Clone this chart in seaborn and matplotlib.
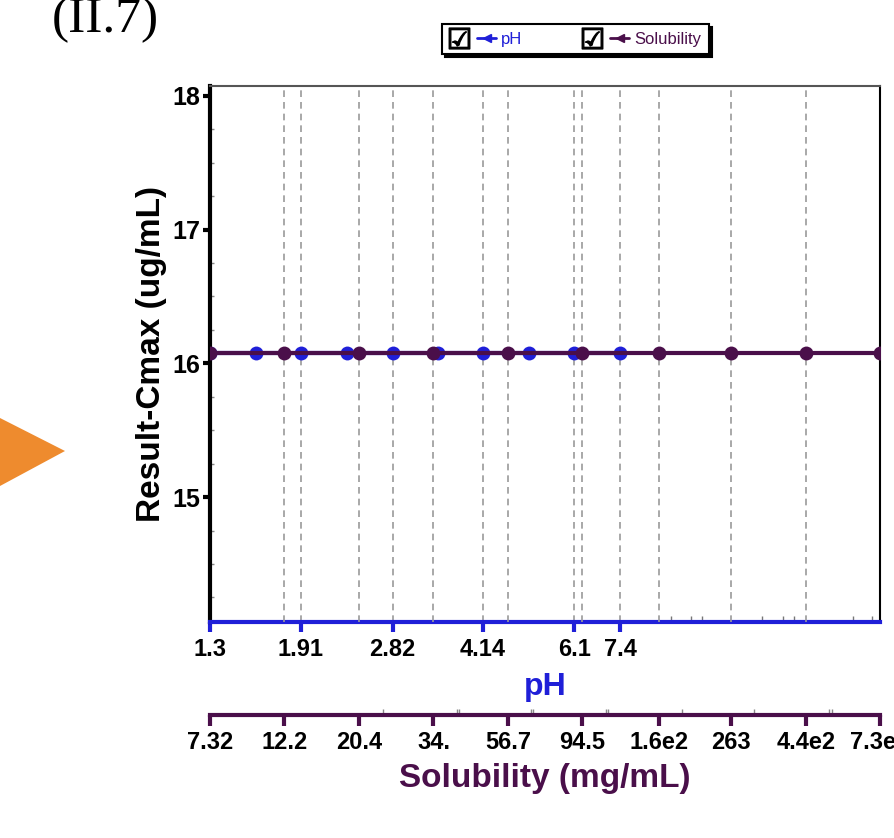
import seaborn as sns
import matplotlib.pyplot as plt
from matplotlib.lines import Line2D
from matplotlib.patches import Polygon
from matplotlib.legend_handler import HandlerTuple
from matplotlib.ticker import FixedLocator, NullFormatter

# data
ph = [1.3, 1.58, 1.91, 2.32, 2.82, 3.42, 4.14, 5.03, 6.1, 7.4]
cmax_ph = [16.08, 16.08, 16.08, 16.08, 16.08, 16.08, 16.08, 16.08, 16.08, 16.08]
solubility = [7.32, 12.2, 20.4, 34.0, 56.7, 94.5, 160, 263, 440, 730]
cmax_sol = [16.08, 16.08, 16.08, 16.08, 16.08, 16.08, 16.08, 16.08, 16.08, 16.08]

ph_ticks = [1.3, 1.91, 2.82, 4.14, 6.1, 7.4]
ph_tick_labels = ['1.3', '1.91', '2.82', '4.14', '6.1', '7.4']
ph_minor = [9.2, 10.0, 10.5, 13.5, 14.8, 15.5, 19.9, 21.6]
sol_ticks = [7.32, 12.2, 20.4, 34.0, 56.7, 94.5, 160, 263, 440, 730]
sol_tick_labels = ['7.32', '12.2', '20.4', '34.', '56.7', '94.5', '1.6e2', '263', '4.4e2', '7.3e2']
sol_minor = [24.0, 40.0, 40.6, 66.5, 67.6, 111, 113, 188, 309, 517, 525]
y_ticks = [15, 16, 17, 18]
y_minor = [14.25, 14.5, 14.75, 15.25, 15.5, 15.75, 16.25, 16.5, 16.75, 17.25, 17.5, 17.75]

blue = '#1f1fd8'
purple = '#4a0f4a'
grid_kw = dict(color='#9a9a9a', linestyle=(0, (4, 3)), linewidth=1.2)

sns.set_style('white')
plt.rcParams['font.family'] = ['Liberation Sans', 'DejaVu Sans']
plt.rcParams['font.weight'] = 'bold'

fig = plt.figure(figsize=(8.94, 8.38), dpi=100)
ax = fig.add_axes([0.2349, 0.2581, 0.7494, 0.6396])
ax2 = ax.twiny()

sns.lineplot(x=ph, y=cmax_ph, ax=ax, color=blue, marker='o', markersize=10,
             markeredgewidth=0, linewidth=3)
sns.lineplot(x=solubility, y=cmax_sol, ax=ax2, color=purple, marker='o', markersize=10,
             markeredgewidth=0, linewidth=3)

# pH axis
ax.set_xscale('log')
ax.set_xlim(1.3, 22.3)
ax.set_ylim(14.069, 18.075)
ax.set_xticks(ph_ticks, labels=ph_tick_labels)
ax.xaxis.set_minor_locator(FixedLocator(ph_minor))
ax.xaxis.set_minor_formatter(NullFormatter())
ax.set_yticks(y_ticks)
ax.yaxis.set_minor_locator(FixedLocator(y_minor))
ax.grid(axis='x', which='major', **grid_kw)
ax.grid(axis='y', visible=False)

ax.spines['left'].set_linewidth(3)
ax.spines['left'].set_color('black')
ax.spines['bottom'].set_linewidth(3)
ax.spines['bottom'].set_color(blue)
ax.spines['top'].set_linewidth(1.5)
ax.spines['top'].set_color('#555555')
ax.spines['right'].set_linewidth(1.5)
ax.spines['right'].set_color('black')

ax.tick_params(axis='y', which='major', direction='out', length=5, width=3,
               color='black', labelcolor='black', labelsize=18, pad=2, left=True)
ax.tick_params(axis='y', which='minor', direction='in', length=3, width=1,
               color='#888888', left=True)
ax.tick_params(axis='x', which='major', direction='out', length=7, width=3,
               color=blue, labelcolor='black', labelsize=17, pad=5, bottom=True)
ax.tick_params(axis='x', which='minor', direction='in', length=4, width=1,
               color='#777777', bottom=True)

ax.set_xlabel('pH', color=blue, fontsize=23, fontweight='bold', labelpad=8)
ax.set_ylabel('Result-Cmax (ug/mL)', color='black', fontsize=24, fontweight='bold', labelpad=4)

# Solubility axis, below the pH axis
ax2.set_xscale('log')
ax2.set_xlim(7.32, 732)
ax2.xaxis.set_ticks_position('bottom')
ax2.xaxis.set_label_position('bottom')
ax2.spines['bottom'].set_position(('outward', 67))
ax2.spines['bottom'].set_visible(True)
ax2.spines['bottom'].set_linewidth(3)
ax2.spines['bottom'].set_color(purple)
for side in ['top', 'left', 'right']:
    ax2.spines[side].set_visible(False)
ax2.set_xticks(sol_ticks, labels=sol_tick_labels)
ax2.xaxis.set_minor_locator(FixedLocator(sol_minor))
ax2.xaxis.set_minor_formatter(NullFormatter())
ax2.grid(axis='x', which='major', **grid_kw)
ax2.tick_params(axis='x', which='major', direction='out', length=8, width=3,
                color=purple, labelcolor='black', labelsize=17, pad=4, bottom=True, top=False)
ax2.tick_params(axis='x', which='minor', direction='in', length=4, width=1,
                color='#888888', bottom=True, top=False)
ax2.set_xlabel('Solubility (mg/mL)', color=purple, fontsize=24, fontweight='bold', labelpad=6)

# no grid line on top of the frame edges
ax.xaxis.get_major_ticks()[0].gridline.set_visible(False)
ax2.xaxis.get_major_ticks()[0].gridline.set_visible(False)
ax2.xaxis.get_major_ticks()[-1].gridline.set_visible(False)

# legend with check boxes
cb1 = Line2D([], [], ls='none', marker='$☑$', markersize=15, color='black')
cb2 = Line2D([], [], ls='none', marker='$☑$', markersize=15, color='black')
h_ph = Line2D([], [], color=blue, lw=2, marker='<', markersize=6)
h_sol = Line2D([], [], color=purple, lw=2, marker='<', markersize=6)
leg = fig.legend(handles=[(cb1, h_ph), (cb2, h_sol)], labels=['pH', 'Solubility'],
                 handler_map={tuple: HandlerTuple(ndivide=None, pad=0.5)},
                 ncol=2, loc='center', bbox_to_anchor=(575.5 / 894, 1 - 39.5 / 838),
                 frameon=True, fancybox=False, edgecolor='black',
                 shadow={'color': 'black', 'alpha': 1},
                 prop={'family': 'Liberation Sans', 'weight': 'normal', 'size': 12},
                 handlelength=2.8, handletextpad=0.3, columnspacing=3.6,
                 borderpad=0.45, borderaxespad=0, framealpha=1)
leg.get_frame().set_linewidth(1.5)
for t, c in zip(leg.get_texts(), [blue, purple]):
    t.set_color(c)

# slide decorations around the chart
fig.patches.append(Polygon([[0, 1 - 418 / 838], [65 / 894, 1 - 451 / 838], [0, 1 - 486 / 838]],
                           closed=True, transform=fig.transFigure,
                           facecolor='#ee8b2e', edgecolor='none'))
fig.text(52 / 894, 1 - 32 / 838, '(II.7)', family='Liberation Serif', fontsize=37,
         fontweight='normal', va='baseline', ha='left', color='black')

fig.savefig('out.png', dpi=100)
